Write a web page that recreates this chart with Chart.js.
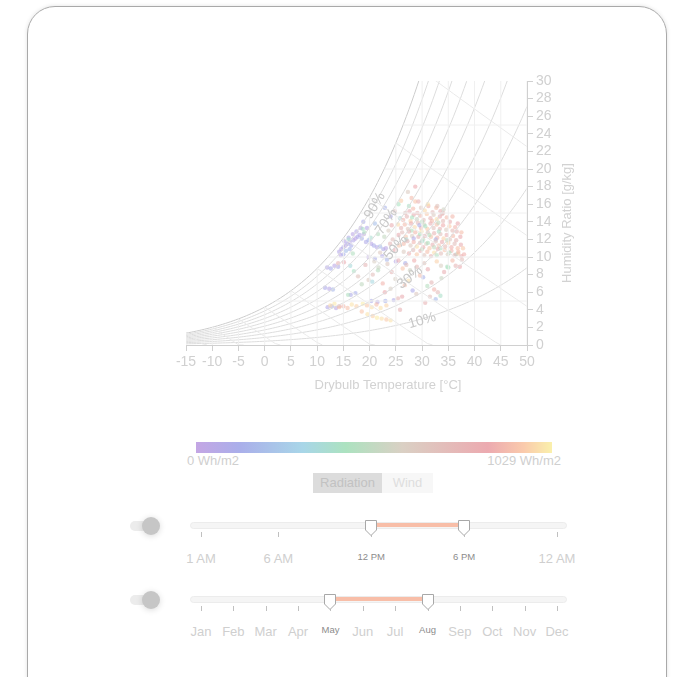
<!DOCTYPE html>
<html>
<head>
<meta charset="utf-8">
<script src="https://cdn.jsdelivr.net/npm/chart.js@4.4.1/dist/chart.umd.min.js"></script>
<style>
  body { margin: 0; background: #fff; font-family: "Liberation Sans", Arial, sans-serif; }
  .card { position: absolute; left: 27px; top: 6px; width: 638px; height: 720px; border: 1px solid #a9a9a9;
          border-radius: 28px; box-shadow: 0 0 4px rgba(0,0,0,0.12); }
  #wrap { position: absolute; left: 150px; top: 60px; width: 460px; height: 350px; }
  .bar { position: absolute; left: 196px; top: 442px; width: 356px; height: 11px;
         background: linear-gradient(to right, #c4a6e4 0%, #aaaeea 12%, #a8d6e8 30%, #ace2c0 42%, #dad0c4 58%, #ecaab0 82%, #facaac 92%, #faf0ac 100%); }
  .lbl { position: absolute; font-size: 13px; color: #cfcfcf; line-height: 16px; white-space: nowrap; }
  .btn { position: absolute; top: 473px; height: 20px; line-height: 20px; font-size: 13px; text-align: center; }
  .abs { position: absolute; }
  .toggle { position: absolute; left: 130px; width: 26px; height: 10px; border-radius: 5px; background: #ececec; }
  .knob { position: absolute; width: 18px; height: 18px; border-radius: 9px; background: #c6c6c6;
          box-shadow: 0 1px 6px rgba(0,0,0,0.15); }
</style>
</head>
<body>
<div class="card"></div>
<div id="wrap"><canvas id="psyChart"></canvas></div>
<div class="bar"></div>
<div class="lbl" style="left:187px; top:453px;">0 Wh/m2</div>
<div class="lbl" style="right:122px; top:453px;">1029 Wh/m2</div>
<div class="btn" style="left:313px; width:69px; background:#dcdcdc; color:#c2c2c2;">Radiation</div>
<div class="btn" style="left:382px; width:51px; background:#f7f7f7; color:#dedede;">Wind</div>
<div id="ui"></div>
<script>
// psychrometric background
const pressure = 88.8; // kPa
const rhLevels = [10, 20, 30, 40, 50, 60, 70, 80, 90, 100];
const rhLabels = [90, 70, 50, 30, 10];
const rhLabelTemps = [21, 23.2, 25, 27.7, 30];
const wetBulbLevels = [-15, -10, -5, 0, 5, 10, 15, 20, 25, 30];
const gridTemps = [-15, -10, -5, 0, 5, 10, 15, 20, 25, 30, 35, 40, 45, 50];
const gridHumid = [5, 10, 15, 20, 25];

// [drybulb °C, humidity ratio g/kg, radiation Wh/m2]
const nightStreak = [
  [14.2,10.6,60],[14.6,10.9,40],[15.0,11.1,80],[15.4,11.3,30],[15.8,11.5,90],[16.2,11.7,50],[16.5,11.3,120],
  [16.9,11.9,70],[17.3,12.1,20],[17.7,12.3,100],[18.1,12.5,60],[18.5,12.1,140],[18.9,12.6,30],[19.3,11.7,80],
  [19.8,11.9,160],[20.3,11.5,50],[20.8,11.3,110],[21.4,11.1,70],[22.0,11.2,180],[22.6,10.9,90],[23.1,11.0,40],
  [14.5,10.2,30],[15.0,10.3,130],[15.5,10.7,200],[16.2,10.9,170],[15.2,11.8,50],[16.0,12.2,90],[16.8,12.6,40],
  [17.5,12.9,70],[18.3,13.3,30],[18.8,14.0,110],[19.5,13.3,60],[22.9,15.6,150],[21.0,13.8,200],[24.0,14.6,90],
  [11.9,8.8,60],[12.6,8.7,120],[13.3,9.0,40],[14.0,8.9,80],[11.5,6.5,100],[12.3,6.4,50],[13.0,6.3,170],
  [16.4,5.7,90],[17.3,5.9,130],[12.0,4.3,70],[12.8,4.4,150],[13.6,4.2,30],[20.3,5.0,110],[21.5,4.9,60],
  [23.0,5.0,140],[24.6,5.1,90],[19.8,10.0,40],[21.0,9.8,120],[22.4,10.1,80],[23.3,9.7,160],[25.0,9.5,60],
  [26.8,9.3,130],[30.2,7.7,150],[28.2,6.2,100],[32.6,5.2,180]
];
const leftMixed = [
  [16.3,9.0,350],[17.0,8.4,420],[15.9,5.7,450],[16.0,12.0,380],[16.8,10.4,460],[18.7,13.2,400],[20.5,7.2,330],
  [21.6,8.5,480],[27.5,15.8,420],[25.8,14.4,360],[31.0,6.7,470],[33.5,5.6,400],[34.8,8.9,440],[36.5,10.3,380],
  [19.0,12.8,440],[20.2,12.2,380],[21.6,12.6,470],[22.8,12.3,520],[23.6,13.0,600],[24.4,12.0,700],[24.8,10.8,850],
  [23.9,11.5,760],[22.0,10.5,640],[25.6,11.3,930],[24.2,13.6,810],[14.0,9.3,780],[15.1,9.4,820]
];
const lowBand = [
  [12.5,4.5,980],[13.3,4.7,1010],[14.2,4.3,950],[15.0,4.4,890],[15.8,4.2,920],[16.6,4.6,1000],[17.5,4.4,960],
  [18.7,4.7,1020],[19.5,4.5,940],[20.4,4.3,990],[21.3,4.6,910],[22.1,4.2,1000],[23.2,4.5,970],[19.6,3.5,1000],
  [20.6,3.3,960],[21.4,3.1,1020],[22.3,3.0,990],[23.2,2.9,940],[24.0,2.8,1000],[18.5,3.8,930],
  [14.2,4.4,780],[25.4,5.3,770],[26.2,5.5,820],[25.8,4.0,790]
];
const midBand = [
  [19.8,7.4,620],[20.6,8.0,700],[21.7,8.8,540],[22.5,7.0,880],[23.4,9.2,650],[24.2,8.3,760],[24.9,7.5,590],
  [25.5,9.6,820],[26.3,8.7,930],[27.0,9.1,700],[27.7,8.5,560],[28.5,9.6,860],[29.0,8.9,740],[29.6,7.9,910],
  [30.4,9.3,680],[31.1,8.6,820],[31.8,7.1,750],[32.3,6.3,880],[33.0,6.0,720],[32.8,9.5,960],[33.6,9.0,600],
  [34.2,8.3,800],[35.0,8.8,430],[35.8,9.6,900],[36.4,9.0,760],[37.2,8.9,850],[37.6,9.7,700],[36.9,10.4,940],
  [24.0,6.4,600],[26.7,6.8,910],[28.9,5.8,650],[30.6,4.8,780],[31.5,5.5,700],[27.4,7.3,990],[33.7,7.6,540],
  [22.9,6.0,830],[18.5,6.9,510],[17.8,7.8,680],[19.2,9.1,750],[20.9,9.5,600]
];
const denseCore = [
  [27.6,15.2,820],[28.3,15.5,900],[29.1,15.0,760],[29.8,15.6,640],[30.5,15.3,980],[31.2,15.8,870],[32.0,15.1,720],
  [32.7,15.6,910],[33.5,15.2,800],[34.1,15.4,560],[26.8,15.0,700],[28.7,16.3,930],[31.1,16.0,1000],[32.9,15.8,680],
  [26.4,14.2,880],[27.1,14.6,750],[27.8,14.1,960],[28.4,14.8,820],[29.0,14.3,540],[29.7,14.7,890],[30.3,14.2,700],
  [30.9,14.9,940],[31.6,14.4,780],[32.2,14.8,620],[32.8,14.3,990],[33.4,14.6,850],[34.0,14.1,730],[34.7,14.5,900],
  [35.3,14.0,810],[28.1,14.5,430],[30.0,14.0,480],[31.9,14.1,900],[33.8,14.9,770],
  [26.0,13.3,760],[26.7,13.7,900],[27.3,13.2,650],[27.9,13.8,830],[28.6,13.4,980],[29.2,13.9,720],[29.8,13.3,870],
  [30.4,13.7,560],[31.0,13.2,940],[31.6,13.8,800],[32.2,13.3,690],[32.8,13.7,910],[33.4,13.2,780],[34.0,13.6,860],
  [34.6,13.1,620],[35.2,13.5,950],[35.8,13.0,740],[36.3,13.4,880],[28.0,13.0,450],[30.6,13.5,420],[33.1,13.9,510],
  [29.5,13.6,130],[25.4,13.7,980],
  [25.5,12.5,820],[26.2,12.8,700],[26.9,12.3,930],[27.5,12.9,780],[28.1,12.4,600],[28.7,12.8,890],[29.3,12.3,750],
  [29.9,12.9,990],[30.5,12.4,830],[31.1,12.8,660],[31.7,12.3,920],[32.3,12.7,770],[32.9,12.2,880],[33.5,12.6,710],
  [34.1,12.1,960],[34.7,12.5,800],[35.3,12.0,670],[35.9,12.4,900],[36.5,11.9,760],[29.6,12.6,440],[31.4,12.5,470],
  [33.2,12.9,400],[30.2,12.0,520],[27.0,12.0,360],[32.6,12.0,150],[28.4,12.1,80],
  [26.5,11.5,900],[27.2,11.8,760],[27.8,11.3,640],[28.4,11.7,880],[29.0,11.2,990],[29.6,11.6,730],[30.2,11.1,850],
  [30.8,11.5,600],[31.4,11.0,940],[32.0,11.4,790],[32.6,11.8,680],[33.2,11.3,910],[33.8,11.7,820],[34.4,11.2,740],
  [35.0,11.6,960],[35.6,11.1,870],[36.2,11.5,700],[36.8,11.0,920],[37.4,11.4,810],[31.1,11.6,450],[33.5,11.0,420],
  [34.8,11.9,480],[32.3,11.1,510],[30.0,11.8,380],
  [27.5,10.4,860],[28.3,10.8,720],[29.0,10.3,940],[29.7,10.7,800],[30.4,10.2,660],[31.0,10.6,910],[31.7,10.1,770],
  [32.3,10.5,990],[33.0,10.9,840],[33.6,10.4,700],[34.3,10.8,930],[34.9,10.3,610],[35.6,10.7,880],[36.2,10.2,750],
  [36.9,10.6,900],[37.5,10.1,800],[32.8,10.2,460],[35.2,10.5,430],[30.0,10.9,500],[26.5,10.6,620],
  [37.8,11.0,940],[38.0,10.3,870],[37.3,12.3,830],[36.6,12.9,760]
];
const upperFringe = [
  [28.7,18.0,850],[27.3,17.4,620],[28.0,16.7,900],[29.3,16.3,780],[34.0,15.0,700],[26.0,16.4,950],
  [24.8,15.2,700],[25.5,16.0,430],[35.8,14.6,890],[36.8,13.8,820],[37.5,12.8,910]
];

const radMax = 1029;
const hourLabels = ["1 AM", "6 AM", "12 PM", "6 PM", "12 AM"];
const hourValues = [1, 6, 12, 18, 24];
const hourRange = [12, 18];
const monthLabels = ["Jan","Feb","Mar","Apr","May","Jun","Jul","Aug","Sep","Oct","Nov","Dec"];
const monthRange = [4, 7];

/////////////////////////////////////////////////////////////////////////////
// helpers
function pws(t) { return 0.61094 * Math.exp(17.625 * t / (t + 243.04)); }
function wFromPv(pv) { return 622 * pv / (pressure - pv); }
function tSat(w) {
  const pv = w * pressure / (622 + w);
  const a = Math.log(pv / 0.61094);
  return 243.04 * a / (17.625 - a);
}
const stops = [
  [0, [196,166,228]], [0.12, [170,174,234]], [0.3, [168,214,232]], [0.42, [172,226,192]],
  [0.58, [218,208,196]], [0.82, [236,170,176]], [0.92, [250,204,172]], [1, [250,240,172]]
];
function radColor(v, a) {
  const f = Math.min(1, Math.max(0, v / radMax));
  for (let i = 1; i < stops.length; i++) {
    if (f <= stops[i][0]) {
      const [f0, c0] = stops[i - 1], [f1, c1] = stops[i];
      const k = (f - f0) / (f1 - f0);
      const c = c0.map((x, j) => Math.round(x + (c1[j] - x) * k));
      return `rgba(${c[0]},${c[1]},${c[2]},${a})`;
    }
  }
  return `rgba(250,240,172,${a})`;
}

const datasets = [];
gridTemps.forEach((t) => {
  datasets.push({ data: [{ x: t, y: 0 }, { x: t, y: Math.min(wFromPv(pws(t)), 30) }],
    showLine: true, borderColor: "#f0f0f0", borderWidth: 1, pointRadius: 0 });
});
gridHumid.forEach((w) => {
  datasets.push({ data: [{ x: tSat(w), y: w }, { x: 50, y: w }],
    showLine: true, borderColor: "#f0f0f0", borderWidth: 1, pointRadius: 0 });
});
wetBulbLevels.forEach((twb) => {
  const ws = wFromPv(pws(twb)) / 1000;
  const pts = [];
  for (let t = twb; t <= 50.01; t += 1) {
    const w = ((2501 - 2.326 * twb) * ws - 1.006 * (t - twb)) / (2501 + 1.86 * t - 4.186 * twb) * 1000;
    pts.push({ x: t, y: Math.max(w, 0) });
    if (w <= 0) break;
  }
  datasets.push({ data: pts, showLine: true, borderColor: "#eaeaea", borderWidth: 1, pointRadius: 0 });
});
function rhCurve(rh) {
  const pts = [];
  for (let t = -15; t <= 50.01; t += 0.5) {
    const w = wFromPv(pws(t) * rh / 100);
    pts.push({ x: t, y: w });
    if (w > 31) break;
  }
  return pts;
}
rhLevels.forEach((rh) => {
  datasets.push({ data: rhCurve(rh), showLine: true, borderColor: rh === 100 ? "#cdcdcd" : "#dddddd",
    borderWidth: 1, pointRadius: 0 });
});
const readings = [].concat(nightStreak, leftMixed, lowBand, midBand, denseCore, upperFringe);
datasets.push({
  data: readings.map((r) => ({ x: r[0], y: r[1] })),
  backgroundColor: readings.map((r) => radColor(r[2], 0.6)),
  borderWidth: 0, pointRadius: 2.2, showLine: false
});

const psyLabels = {
  id: "psyLabels",
  afterDatasetsDraw(chart) {
    const { ctx, scales: { x, y } } = chart;
    ctx.save();
    ctx.fillStyle = "#c8c8c8";
    ctx.font = "14px 'Liberation Sans', Arial, sans-serif";
    ctx.textAlign = "center";
    ctx.textBaseline = "middle";
    rhLabels.forEach((rh, i) => {
      const t = rhLabelTemps[i];
      const x0 = x.getPixelForValue(t - 0.5), y0 = y.getPixelForValue(wFromPv(pws(t - 0.5) * rh / 100));
      const x1 = x.getPixelForValue(t + 0.5), y1 = y.getPixelForValue(wFromPv(pws(t + 0.5) * rh / 100));
      ctx.save();
      ctx.translate((x0 + x1) / 2, (y0 + y1) / 2 + 2);
      ctx.rotate(Math.atan2(y1 - y0, x1 - x0));
      ctx.fillText(rh + "%", 0, 0);
      ctx.restore();
    });
    ctx.font = "13px 'Liberation Sans', Arial, sans-serif";
    ctx.fillStyle = "#d2d2d2";
    ctx.fillText("Drybulb Temperature [°C]", 388 - 150, 385 - 60);
    ctx.save();
    ctx.translate(567 - 150, 223 - 60);
    ctx.rotate(-Math.PI / 2);
    ctx.fillText("Humidity Ratio [g/kg]", 0, 0);
    ctx.restore();
    ctx.restore();
  }
};

const ctx = document.getElementById("psyChart").getContext("2d");
const psyChart = new Chart(ctx, {
  type: "scatter",
  data: { datasets: datasets },
  options: {
    responsive: true,
    maintainAspectRatio: false,
    animation: false,
    layout: { padding: { left: 36, top: 21, right: 0, bottom: 0 } },
    plugins: { legend: { display: false }, tooltip: { enabled: false } },
    events: [],
    scales: {
      x: {
        type: "linear", min: -15, max: 50,
        afterFit: (s) => { s.height = 65; },
        ticks: { stepSize: 5, color: "#d0d0d0", font: { size: 14 }, padding: 3, maxRotation: 0, autoSkip: false },
        grid: { drawOnChartArea: false, drawTicks: true, tickLength: 6, color: "#d0d0d0" },
        border: { color: "#d0d0d0" }
      },
      y: {
        position: "right", min: 0, max: 30,
        afterFit: (s) => { s.width = 83; },
        ticks: { stepSize: 2, color: "#d0d0d0", font: { size: 14 }, padding: 3, autoSkip: false },
        grid: { drawOnChartArea: false, drawTicks: true, tickLength: 6, color: "#d0d0d0" },
        border: { color: "#d0d0d0" }
      }
    }
  },
  plugins: [psyLabels]
});

/////////////////////////////////////////////////////////////////////////////
// range sliders
const ui = document.getElementById("ui");
function add(html) { ui.insertAdjacentHTML("beforeend", html); }
function handle(x, top) {
  return `<svg class="abs" style="left:${x - 7}px; top:${top}px" width="14" height="18">
    <path d="M1.5 1.5 H12.5 V11 L7 16.5 L1.5 11 Z" fill="#fff" stroke="#a8a8a8" stroke-width="1"/></svg>`;
}
function slider(mid, values, labels, lo, hi, min, max, labelMid) {
  const px = (v) => 201 + (v - min) / (max - min) * 356;
  add(`<div class="toggle" style="top:${mid - 4}px"></div>`);
  add(`<div class="knob" style="left:142px; top:${mid - 8}px"></div>`);
  add(`<div class="abs" style="left:190px; top:${mid - 3}px; width:375px; height:5px; border:1px solid #ececec; border-radius:4px; background:#f5f5f5"></div>`);
  add(`<div class="abs" style="left:${px(lo)}px; top:${mid - 2}px; width:${px(hi) - px(lo)}px; height:4px; background:#f8bea8"></div>`);
  values.forEach((v, i) => {
    const x = px(v);
    add(`<div class="abs" style="left:${Math.round(x)}px; top:${mid + 7}px; width:1px; height:5px; background:#c0c0c0"></div>`);
    const small = v === lo || v === hi;
    add(`<div class="lbl" style="left:${x - 40}px; width:80px; text-align:center; top:${mid + labelMid - 8}px;` +
        (small ? " font-size:9.5px; color:#8c8c8c; top:" + (mid + labelMid - 10) + "px;" : "") + `">${labels[i]}</div>`);
  });
  add(handle(px(lo), mid - 6));
  add(handle(px(hi), mid - 6));
}
slider(525, hourValues, hourLabels, hourRange[0], hourRange[1], 1, 24, 34);
slider(599, monthLabels.map((m, i) => i), monthLabels, monthRange[0], monthRange[1], 0, 11, 33);
</script>
</body>
</html>
